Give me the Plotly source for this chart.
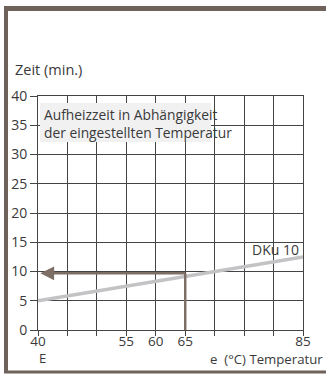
import plotly.graph_objects as go

# Heating-up time vs. set temperature (DKu 10)
temperature = [40, 85]          # °C
heat_time = [5, 12.5]           # min
x_grid = [40, 45, 50, 55, 60, 65, 70, 75, 80, 85]
x_labels = ["40", "", "", "55", "60", "65", "", "", "", "85"]
y_grid = [0, 5, 10, 15, 20, 25, 30, 35, 40]
y_labels = ["0", "5", "10", "15", "20", "25", "30", "35", "40"]
read_temp = 65                  # example reading
read_time = 9.7

W, H = 326, 376
L, R, T, B = 38, 23, 96, 46
pw, ph = W - L - R, H - T - B

def px(x):
    return (x - L) / pw

def py(y):
    return (H - B - y) / ph

FONT = "Open Sans"
TXT = "#3a3a3a"
GRID = "#444444"
FRAME = "#6e625b"
ARROW = "#7d6e66"

fig = go.Figure()
fig.add_trace(go.Scatter(
    x=temperature, y=heat_time, mode="lines",
    line=dict(color="#c3c3c6", width=3.5), hoverinfo="skip", showlegend=False,
))

shapes = [
    # caption box
    dict(type="rect", xref="paper", yref="paper", layer="above",
         x0=px(40), x1=px(211), y0=py(142), y1=py(103),
         fillcolor="#f1f1f2", line=dict(width=0)),
    # vertical reading line
    dict(type="line", xref="x", yref="y", x0=read_temp, x1=read_temp, y0=0, y1=read_time,
         line=dict(color=ARROW, width=2.5)),
    # frame
    dict(type="line", xref="paper", yref="paper", x0=px(4), x1=px(326), y0=py(8.5), y1=py(8.5),
         line=dict(color=FRAME, width=5)),
    dict(type="line", xref="paper", yref="paper", x0=px(6), x1=px(6), y0=py(6), y1=py(373),
         line=dict(color=FRAME, width=4)),
    dict(type="line", xref="paper", yref="paper", x0=px(4), x1=px(326), y0=py(372), y1=py(372),
         line=dict(color=FRAME, width=3)),
]

annotations = [
    dict(x=40.4, y=read_time, ax=read_temp + 0.2, ay=read_time, xref="x", yref="y",
         axref="x", ayref="y", showarrow=True, arrowhead=2, arrowsize=1.1,
         arrowwidth=2.5, arrowcolor=ARROW, text=""),
    dict(x=px(42), y=py(123), xref="paper", yref="paper", xanchor="left", yanchor="middle",
         align="left", showarrow=False,
         text="Aufheizzeit in Abhängigkeit<br>der eingestellten Temperatur",
         font=dict(family=FONT, size=13.8, color=TXT)),
    dict(x=px(13), y=py(70), xref="paper", yref="paper", xanchor="left", yanchor="middle",
         showarrow=False, text="Zeit (min.)", font=dict(family=FONT, size=14.5, color=TXT)),
    dict(x=px(301), y=py(249), xref="paper", yref="paper", xanchor="right", yanchor="middle",
         showarrow=False, text="DKu 10", font=dict(family=FONT, size=14, color=TXT)),
    dict(x=px(37), y=py(357.5), xref="paper", yref="paper", xanchor="left", yanchor="middle",
         showarrow=False, text="E", font=dict(family=FONT, size=13, color=TXT)),
    dict(x=px(325), y=py(358.5), xref="paper", yref="paper", xanchor="right", yanchor="middle",
         showarrow=False, text="e  (°C) Temperatur", font=dict(family=FONT, size=13.2, color=TXT)),
]

fig.update_layout(
    width=W, height=H, margin=dict(l=L, r=R, t=T, b=B, pad=0),
    paper_bgcolor="white", plot_bgcolor="white",
    font=dict(family=FONT, size=13.5, color=TXT),
    shapes=shapes, annotations=annotations, showlegend=False,
    xaxis=dict(range=[40, 85], tickvals=x_grid, ticktext=x_labels,
               showgrid=True, gridcolor=GRID, gridwidth=1, zeroline=False,
               showline=True, linecolor=GRID, linewidth=1, mirror=True,
               ticks="outside", ticklen=5, tickcolor=GRID, tickwidth=1,
               ticklabelstandoff=-6,
               tickfont=dict(family=FONT, size=13.5, color=TXT), fixedrange=True),
    yaxis=dict(range=[0, 40], tickvals=y_grid, ticktext=y_labels,
               showgrid=True, gridcolor=GRID, gridwidth=1, zeroline=False,
               showline=True, linecolor=GRID, linewidth=1, mirror=True,
               ticks="outside", ticklen=7, tickcolor=GRID, tickwidth=1,
               tickfont=dict(family=FONT, size=14, color=TXT), fixedrange=True),
)

fig.write_html("out.html", config={"displayModeBar": False})
